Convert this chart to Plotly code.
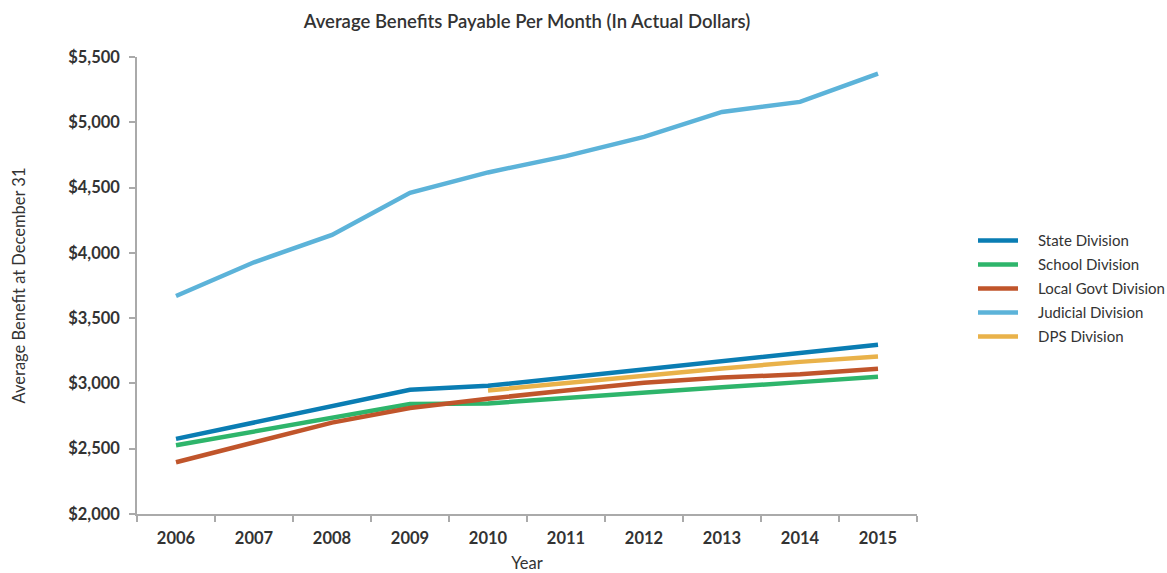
import plotly.graph_objects as go

years = ["2006", "2007", "2008", "2009", "2010", "2011", "2012", "2013", "2014", "2015"]
state = [2575, 2700, 2825, 2952, 2982, 3045, 3110, 3172, 3235, 3296]
school = [2526, 2631, 2736, 2842, 2847, 2890, 2930, 2970, 3010, 3051]
local_govt = [2396, 2549, 2700, 2812, 2883, 2945, 3005, 3045, 3070, 3112]
judicial = [3670, 3928, 4137, 4460, 4616, 4741, 4888, 5079, 5156, 5373]
dps_years = ["2010", "2011", "2012", "2013", "2014", "2015"]
dps = [2946, 3005, 3060, 3115, 3165, 3206]

series = [
    ("State Division", years, state, "#0A7DB3"),
    ("School Division", years, school, "#2EB56B"),
    ("Local Govt Division", years, local_govt, "#C0552B"),
    ("Judicial Division", years, judicial, "#5CB3D9"),
    ("DPS Division", dps_years, dps, "#E9B24A"),
]

FONT = "Lato"
PAD = "\u2002\u2002"
fig = go.Figure()
for name, xs, ys, color in series:
    fig.add_trace(go.Scatter(
        x=xs, y=ys, name=PAD + name, mode="lines", legendgroup=name,
        line=dict(color=color, width=4.5),
    ))

fig.update_layout(
    width=1167, height=573,
    margin=dict(l=137, r=250, t=57, b=58.5, autoexpand=False),
    paper_bgcolor="white", plot_bgcolor="white",
    font=dict(family=FONT, color="#333333"),
    title=dict(
        text="Average Benefits Payable Per Month (In Actual Dollars)",
        x=527 / 1167, xanchor="center", y=1 - 22 / 573, yanchor="middle",
        font=dict(family=FONT, size=18.5, color="#333333", weight=600),
    ),
    legend=dict(
        x=1.0718, xanchor="left", y=0.493, yanchor="middle",
        font=dict(family=FONT, size=15, color="#333333"),
        bgcolor="rgba(0,0,0,0)", itemwidth=40, tracegroupgap=1.5,
    ),
    xaxis=dict(
        type="category", categoryorder="array", categoryarray=years,
        range=[-0.5, 9.5],
        showgrid=False, zeroline=False,
        showline=True, linecolor="#aaaaaa", linewidth=1.5,
        ticks="outside", tickson="boundaries", ticklen=6, tickcolor="#aaaaaa", tickwidth=1.5,
        tickfont=dict(family=FONT, size=16.5, color="#333333", weight=700),
        ticklabelstandoff=8,
        title=dict(text="Year", font=dict(family=FONT, size=16.5, color="#333333"), standoff=16),
        fixedrange=True,
    ),
    yaxis=dict(
        range=[2000, 5500], dtick=500,
        tickprefix="$", tickformat=",d",
        showgrid=False, zeroline=False,
        showline=True, linecolor="#aaaaaa", linewidth=1.5,
        ticks="outside", ticklen=6, tickcolor="#aaaaaa", tickwidth=1.5,
        tickfont=dict(family=FONT, size=16.5, color="#333333", weight=700),
        ticklabelstandoff=6,
        title=dict(text="Average Benefit at December 31", font=dict(family=FONT, size=16.5, color="#333333"), standoff=38),
        fixedrange=True,
    ),
)

fig.write_html("out.html")
